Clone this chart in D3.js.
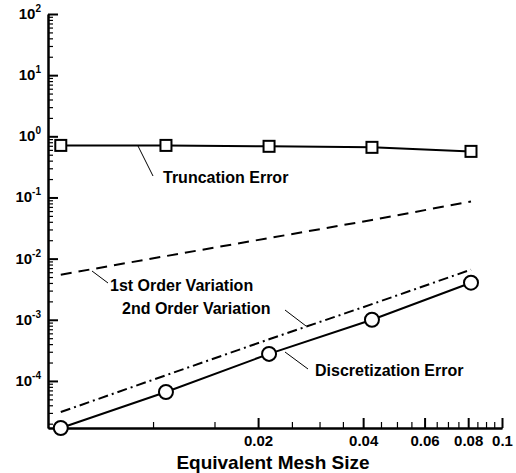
<!DOCTYPE html>
<html>
<head>
<meta charset="utf-8">
<title>Error vs mesh size</title>
<script src="https://d3js.org/d3.v7.min.js"></script>
<style>
  body { margin: 0; background: #fff; }
  text { font-family: "Liberation Sans", Arial, sans-serif; font-weight: bold; fill: #000; }
</style>
</head>
<body>
<svg id="chart" width="516" height="473"></svg>
<script>
// mesh sizes and the curves
var meshSize = [0.00544, 0.01089, 0.0215, 0.0424, 0.0815];
var truncError = [0.71, 0.71, 0.686, 0.66, 0.567];
var discError = [1.7e-5, 6.6e-5, 2.77e-4, 1.0e-3, 4.04e-3];
var firstOrder = [0.00547, 0.0110, 0.0217, 0.0428, 0.086];
var secondOrder = [3.1e-5, 1.24e-4, 4.8e-4, 1.8e-3, 6.6e-3];

var xMajor = [0.02, 0.04, 0.06, 0.08, 0.1];
var xMajorLabels = ["0.02", "0.04", "0.06", "0.08", "0.1"];
var yMajorExp = [2, 1, 0, -1, -2, -3, -4];

var svg = d3.select("#chart");

var x = d3.scaleLog().domain([0.005, 0.1]).range([48, 502]);
var y = d3.scaleLog().domain([1.7e-5, 100]).range([428, 14]);

// minor ticks
var xMinor = d3.range(10, 101, 5).map(function(d) { return d / 1000; })
  .filter(function(d) { return xMajor.indexOf(d) < 0; });
var yMinor = [];
yMajorExp.forEach(function(e) {
  for (var k = 2; k <= 9; k++) {
    var v = k * Math.pow(10, e - 1);
    if (v >= 1.7e-5) yMinor.push(v);
  }
});

// x axis
svg.append("g")
  .attr("transform", "translate(0,428)")
  .call(d3.axisBottom(x).tickValues(xMinor).tickSizeInner(-6).tickSizeOuter(0).tickFormat(""))
  .call(function(g) { g.selectAll(".tick line").attr("stroke-width", 1.2); });
var xg = svg.append("g")
  .attr("transform", "translate(0,428)")
  .call(d3.axisBottom(x).tickValues(xMajor).tickSizeInner(-10).tickSizeOuter(0)
    .tickFormat(function(d, i) { return xMajorLabels[i]; }));
xg.select(".domain").attr("stroke-width", 2.5);
xg.selectAll(".tick line").attr("stroke-width", 2);
xg.selectAll(".tick text").attr("y", 7).attr("dy", "0.71em")
  .style("font-size", "15px").style("font-family", "'Liberation Sans', Arial, sans-serif").style("font-weight", "bold");

// y axis
svg.append("g")
  .attr("transform", "translate(48,0)")
  .call(d3.axisLeft(y).tickValues(yMinor).tickSizeInner(-5).tickSizeOuter(0).tickFormat(""))
  .call(function(g) { g.selectAll(".tick line").attr("stroke-width", 1.2); });
var yg = svg.append("g")
  .attr("transform", "translate(48,0)")
  .call(d3.axisLeft(y).tickValues(yMajorExp.map(function(e) { return Math.pow(10, e); }))
    .tickSizeInner(-10).tickSizeOuter(0).tickFormat(""));
yg.select(".domain").attr("stroke-width", 2.5);
yg.selectAll(".tick line").attr("stroke-width", 2);

yMajorExp.forEach(function(e) {
  var t = svg.append("text")
    .attr("x", 41)
    .attr("y", y(Math.pow(10, e)) + 5)
    .attr("text-anchor", "end")
    .style("font-size", "15px");
  t.append("tspan").text("10");
  t.append("tspan").attr("dy", -7).style("font-size", "10px").text(e);
});

svg.append("text")
  .attr("x", 273).attr("y", 469)
  .attr("text-anchor", "middle")
  .style("font-size", "19px")
  .text("Equivalent Mesh Size");

// curves
function series(vals) {
  return vals.map(function(v, i) { return [meshSize[i], v]; });
}
var line = d3.line().x(function(d) { return x(d[0]); }).y(function(d) { return y(d[1]); });

svg.append("path").datum(series(firstOrder)).attr("d", line)
  .attr("fill", "none").attr("stroke", "#000").attr("stroke-width", 2)
  .attr("stroke-dasharray", "11,7");
svg.append("path").datum(series(secondOrder)).attr("d", line)
  .attr("fill", "none").attr("stroke", "#000").attr("stroke-width", 2)
  .attr("stroke-dasharray", "10,4,2,4");
svg.append("path").datum(series(truncError)).attr("d", line)
  .attr("fill", "none").attr("stroke", "#000").attr("stroke-width", 2);
svg.append("path").datum(series(discError)).attr("d", line)
  .attr("fill", "none").attr("stroke", "#000").attr("stroke-width", 2);

svg.selectAll(".sq").data(series(truncError)).enter().append("rect")
  .attr("x", function(d) { return x(d[0]) - 5.5; })
  .attr("y", function(d) { return y(d[1]) - 5.5; })
  .attr("width", 11).attr("height", 11)
  .attr("fill", "#fff").attr("stroke", "#000").attr("stroke-width", 2);

svg.selectAll(".ci").data(series(discError)).enter().append("circle")
  .attr("cx", function(d) { return x(d[0]); })
  .attr("cy", function(d) { return y(d[1]); })
  .attr("r", 7)
  .attr("fill", "#fff").attr("stroke", "#000").attr("stroke-width", 2);

// annotations with leader lines
var notes = [
  { text: "Truncation Error", tx: 163, ty: 183, l: [138, 146, 153, 176] },
  { text: "1st Order Variation", tx: 110, ty: 291, l: [92, 271, 108, 283] },
  { text: "2nd Order Variation", tx: 122, ty: 314, l: [285, 310, 306, 326] },
  { text: "Discretization Error", tx: 315, ty: 376, l: [285, 352, 308, 369] }
];
notes.forEach(function(n) {
  svg.append("line")
    .attr("x1", n.l[0]).attr("y1", n.l[1]).attr("x2", n.l[2]).attr("y2", n.l[3])
    .attr("stroke", "#000").attr("stroke-width", 1);
  svg.append("text").attr("x", n.tx).attr("y", n.ty)
    .style("font-size", "16px").text(n.text);
});
</script>
</body>
</html>
